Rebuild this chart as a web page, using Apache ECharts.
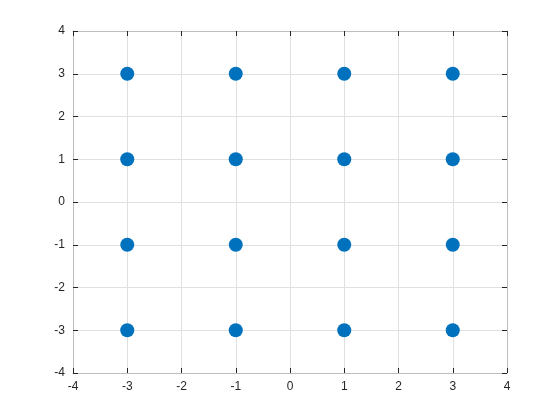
<!DOCTYPE html>
<html><head><meta charset="utf-8">
<script src="https://cdn.jsdelivr.net/npm/echarts@6/dist/echarts.min.js"></script>
<style>html,body{margin:0;padding:0;background:#fff}#c{width:560px;height:420px}</style>
</head><body><div id="c"></div>
<script>
const xValues = [-3, -3, -3, -3, -1, -1, -1, -1, 1, 1, 1, 1, 3, 3, 3, 3];
const yValues = [3, 1, -1, -3, 3, 1, -1, -3, 3, 1, -1, -3, 3, 1, -1, -3];
const axisMin = -4, axisMax = 4, tickStep = 1;

const font = 'Liberation Sans, Arial, Helvetica, sans-serif';
function mkAxis(pos, labels, grid) {
  return {
    type: 'value', position: pos, min: axisMin, max: axisMax, interval: tickStep,
    axisLine: {show: true, onZero: false, lineStyle: {color: '#bdbdbd', width: 1}},
    axisTick: {show: true, inside: true, length: 5, lineStyle: {color: '#262626', width: 1}},
    axisLabel: {show: labels, color: '#262626', fontSize: 12, fontFamily: font, margin: 8},
    splitLine: {show: grid, lineStyle: {color: '#e0e0e0', width: 1}}
  };
}
const chart = echarts.init(document.getElementById('c'), null, {renderer: 'canvas'});
chart.setOption({
  animation: false,
  grid: {left: 73, top: 31, width: 434, height: 342, containLabel: false},
  xAxis: [mkAxis('bottom', true, true), mkAxis('top', false, false)],
  yAxis: [mkAxis('left', true, true), mkAxis('right', false, false)],
  series: [{
    type: 'scatter', xAxisIndex: 0, yAxisIndex: 0,
    data: xValues.map((x, i) => [x, yValues[i]]),
    symbol: 'circle', symbolSize: 14,
    itemStyle: {color: '#0072BD', opacity: 1}
  }]
});
</script></body></html>
